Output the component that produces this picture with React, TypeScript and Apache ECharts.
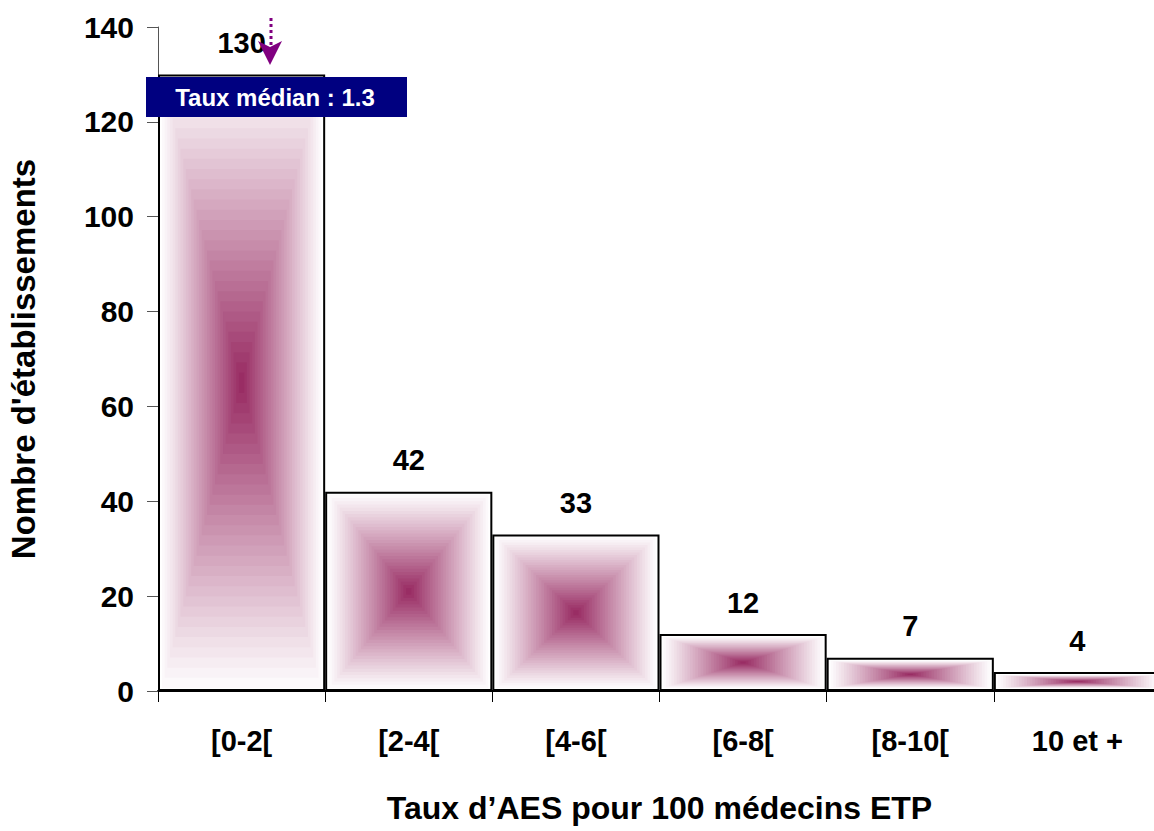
import React, { useEffect, useRef } from "react";
import * as echarts from "echarts";

const categories = ["[0-2[", "[2-4[", "[4-6[", "[6-8[", "[8-10[", "10 et +"];
const values = [130, 42, 33, 12, 7, 4];
const yMin = 0;
const yMax = 140;
const yInterval = 20;
const yTitle = "Nombre d'établissements";
const xTitle = "Taux d\u2019AES pour 100 médecins ETP";
const medianText = "Taux médian : 1.3";

const FONT = 'Arial, "Liberation Sans", sans-serif';
const CENTER = [153, 45, 100];

function ringColor(t: number): string {
  const f = Math.pow(t, 1.05);
  const r = Math.round(252 + (CENTER[0] - 252) * f);
  const g = Math.round(249 + (CENTER[1] - 249) * f);
  const b = Math.round(251 + (CENTER[2] - 251) * f);
  return `rgb(${r},${g},${b})`;
}

export default function App() {
  const ref = useRef<HTMLDivElement>(null);
  useEffect(() => {
    if (!ref.current) return;
    const chart = echarts.init(ref.current, null, { renderer: "svg" });
    const option: any = {
      animation: false,
      backgroundColor: "#ffffff",
      grid: {
        left: 158,
        width: 1003,
        top: 27,
        height: 664,
        containLabel: false,
        outerBoundsMode: "none",
      },
      xAxis: {
        type: "category",
        data: categories,
        name: xTitle,
        nameLocation: "middle",
        nameGap: 101,
        nameTextStyle: { fontFamily: FONT, fontSize: 32, fontWeight: "bold", color: "#000" },
        axisLine: { lineStyle: { color: "#000", width: 2 } },
        axisTick: { show: true, length: 11, lineStyle: { color: "#000", width: 1 } },
        axisLabel: { fontFamily: FONT, fontSize: 29, fontWeight: "bold", color: "#000", margin: 35 },
      },
      yAxis: {
        type: "value",
        min: yMin,
        max: yMax,
        interval: yInterval,
        name: yTitle,
        nameLocation: "middle",
        nameGap: 118,
        nameTextStyle: { fontFamily: FONT, fontSize: 33, fontWeight: "bold", color: "#000" },
        axisLine: { show: true, lineStyle: { color: "#555", width: 1 } },
        axisTick: { show: true, length: 11, lineStyle: { color: "#555", width: 1 } },
        axisLabel: { fontFamily: FONT, fontSize: 30, fontWeight: "bold", color: "#000", margin: 24 },
        splitLine: { show: false },
      },
      series: [
        {
          type: "custom",
          z: 1,
          data: values.map((v, i) => [i, v]),
          encode: { x: 0, y: 1 },
          renderItem: (params: any, api: any) => {
            const idx = api.value(0);
            const v = api.value(1);
            const base = api.coord([idx, 0]);
            const top = api.coord([idx, v]);
            const bw = api.size([1, 0])[0];
            const cx = base[0];
            const cy = (base[1] + top[1]) / 2;
            const hw = bw / 2 - 4;
            const hh = (base[1] - top[1]) / 2 - 3;
            const N = 30;
            const children: any[] = [];
            for (let k = 0; k < N; k++) {
              const s = 1 - k / N;
              const t = k / (N - 1);
              children.push({
                type: "rect",
                shape: { x: cx - hw * s, y: cy - hh * s, width: 2 * hw * s, height: 2 * hh * s },
                style: { fill: ringColor(t) },
              });
            }
            return { type: "group", children };
          },
        },
        {
          type: "bar",
          z: 3,
          data: values,
          barCategoryGap: "0%",
          itemStyle: { color: "rgba(0,0,0,0)", borderColor: "#000", borderWidth: 2 },
          label: {
            show: true,
            position: "top",
            distance: 17,
            fontFamily: FONT,
            fontSize: 29,
            fontWeight: "bold",
            color: "#000",
          },
        },
      ],
      graphic: [
        {
          type: "rect",
          z: 100,
          shape: { x: 146, y: 77, width: 261, height: 40 },
          style: { fill: "#000080" },
        },
        {
          type: "text",
          z: 101,
          x: 275,
          y: 97,
          style: {
            text: medianText,
            fill: "#fff",
            fontFamily: FONT,
            fontSize: 24,
            fontWeight: "bold",
            align: "center",
            verticalAlign: "middle",
          },
        },
        {
          type: "line",
          z: 101,
          shape: { x1: 271, y1: 18, x2: 271, y2: 46 },
          style: { stroke: "#800080", lineWidth: 3, lineDash: [3, 3] },
        },
        {
          type: "polygon",
          z: 102,
          shape: { points: [[258, 41], [270, 47], [282, 41], [270, 65]] },
          style: { fill: "#800080" },
        },
      ],
    };
    chart.setOption(option);
    return () => chart.dispose();
  }, []);
  return (
    <div
      ref={ref}
      style={{ position: "fixed", left: 0, top: 0, width: 1154, height: 831, background: "#fff" }}
    />
  );
}
